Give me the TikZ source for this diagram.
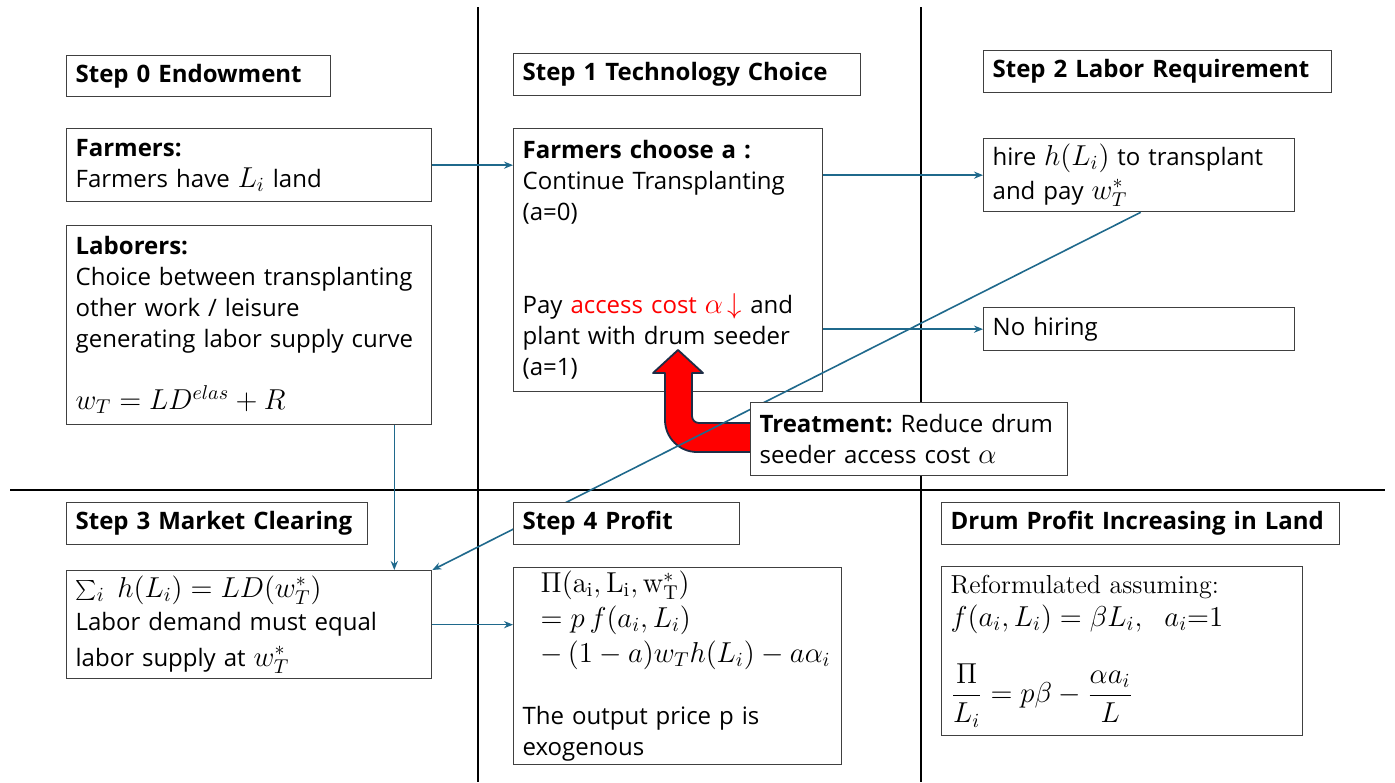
\documentclass[tikz,border=0pt]{standalone}
\usepackage{fontspec}
\setsansfont{Open Sans}
\DeclareMathSizes{12}{14.4}{10}{7}
\DeclareMathSizes{13}{14.4}{10}{7}
\usetikzlibrary{arrows.meta,calc}
\definecolor{connc}{RGB}{31,105,140}
\definecolor{edgec}{RGB}{64,64,64}
\definecolor{redline}{RGB}{30,45,70}
\newcommand\mkbox[7][]{%
  \pgfmathsetmacro\bw{(#5-#3)*0.5}%
  \pgfmathsetmacro\bh{(#6-#4)*0.5}%
  \pgfmathsetmacro\tw{\bw-9}%
  \node[frame, minimum width=\bw pt, minimum height=\bh pt, text width=\tw pt, #1] (#2) at (#3,#4) {#7};}
\begin{document}
\begin{tikzpicture}[x=0.5pt,y=-0.5pt,
  frame/.style={draw=edgec, line width=0.65pt, fill=white, anchor=north west,
    inner xsep=4.5pt, inner ysep=1.5pt, align=left,
    font=\sffamily\fontsize{12}{15.5}\selectfont},
  head/.style={font=\sffamily\bfseries\fontsize{12}{15.5}\selectfont},
  serif/.style={font=\rmfamily\fontsize{13}{15.5}\selectfont},
  conn/.style={draw=connc, line width=0.8pt, -{Stealth[length=4.5pt,width=3.6pt]}},
  divider/.style={draw=black, line width=1pt},
  redarrow/.style={fill=red, draw=redline, line width=0.9pt, line join=round}]
\useasboundingbox (0,0) rectangle (1395,782);

% dividers
\draw[divider] (478,7) -- (478,782);
\draw[divider] (921,7) -- (921,782);
\draw[divider] (10,490) -- (1385,490);

% top row
\mkbox[head]{s0h}{66}{55}{330}{96}{Step 0 Endowment}
\mkbox[head]{s1h}{513}{53}{860}{95}{Step 1 Technology Choice}
\mkbox[head]{s2h}{983}{50}{1331}{92}{Step 2 Labor Requirement}
\mkbox{farm}{66}{128}{431}{201}{\textbf{Farmers:}\\ Farmers have $L_i$ land}
\mkbox{lab}{66}{225}{431}{424}{\textbf{Laborers:}\\ Choice between transplanting\\ other work / leisure\\ generating labor supply curve\\[15.5pt] $w_T = LD^{elas} + R$}
\mkbox{choose}{513}{128}{822}{391}{\textbf{Farmers choose a :}\\ Continue Transplanting\\ (a=0)\\[31pt] Pay {\color{red}access cost $\alpha\,{\downarrow}$} and\\ plant with drum seeder\\ (a=1)}
\mkbox{hire}{983}{138}{1294}{211}{hire $h(L_i)$ to transplant\\[1.5pt] and pay $w_T^*$}
\mkbox{nohire}{983}{307}{1294}{350}{No hiring}

% bottom row (left and right)
\mkbox[head]{s3h}{66}{502}{367}{544}{Step 3 Market Clearing}
\mkbox{s3b}{66}{570}{431}{678}{$\sum_i\ h(L_i) = LD(w_T^*)$\\[1pt] Labor demand must equal\\[2.5pt] labor supply at $w_T^*$}
\mkbox[head]{drumh}{941}{502}{1339}{544}{Drum Profit Increasing in Land}
\mkbox[serif]{drumb}{941}{566}{1302}{735}{Reformulated assuming:\\[1pt] $f(a_i,L_i) = \beta L_i,\ \ a_i{=}1$\\[14pt] $\displaystyle\frac{\Pi}{L_i} = p\beta - \frac{\alpha a_i}{L}$}

% red treatment arrow
\draw[redarrow] (678,350) -- (703,373) -- (692,373) -- (692,416)
  .. controls (692,419.9) and (695.1,423) .. (699,423) -- (760,423) -- (760,452) -- (697,452)
  .. controls (679.3,452) and (665,437.7) .. (665,420) -- (665,373) -- (653,373) -- cycle;

% long diagonal connector
\draw[conn] ($(hire.south)+(1.5,0)$) -- (s3b.north east);

\mkbox{treat}{750}{402}{1067}{475}{\textbf{Treatment:}~Reduce drum\\ seeder access cost $\alpha$}
\mkbox[head]{s4h}{513}{502}{739}{544}{Step 4 Profit}
\mkbox{s4b}{513}{567}{841}{764}{\hspace*{9pt}$\Pi(\mathrm{a_i}, \mathrm{L_i}, \mathrm{w_T^*})$\\[2pt] \hspace*{9pt}$= p\,f(a_i, L_i)$\\[2pt] \hspace*{9pt}$-\,(1-a)w_T h(L_i) - a\alpha_i$\\[15.5pt] The output price p is\\ exogenous}

% connectors
\draw[conn] (farm.east) -- (farm.east -| choose.west);
\draw[conn] (choose.east |- hire.west) -- (hire.west);
\draw[conn] (choose.east |- nohire.west) -- (nohire.west);
\draw[conn] ($(lab.south east)+(-38,0)$) -- ($(s3b.north east)+(-38,0)$);
\draw[conn] (s3b.east) -- (s3b.east -| s4b.west);
\end{tikzpicture}
\end{document}
